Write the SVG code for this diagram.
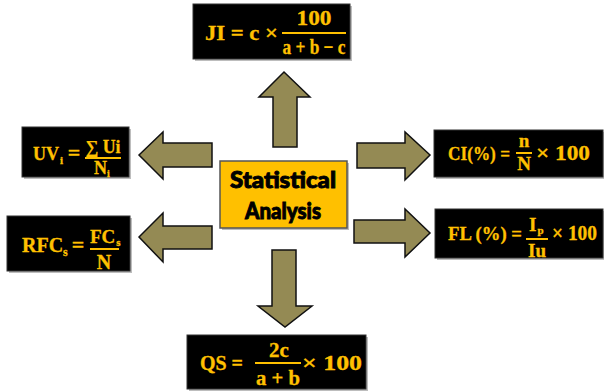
<svg xmlns="http://www.w3.org/2000/svg" width="604" height="391" viewBox="0 0 604 391">
<defs>
<style>
.box{fill:#000;stroke:#333;stroke-width:1}
.shadow{fill:#bdbdbd}
.f{font-family:"Liberation Serif","DejaVu Serif",serif;font-weight:bold;fill:#FFC000;stroke:#FFC000;stroke-width:0.3}
.fl{stroke:#FFC000;stroke-width:2}
.arrow{fill:#948A54;stroke:#111;stroke-width:1.5;stroke-linejoin:miter}
.c{font-family:Lato,"Open Sans",sans-serif;font-weight:900;fill:#000;stroke:#000;stroke-width:0.9;text-anchor:middle}
</style>
</defs>
<rect width="604" height="391" fill="#fff"/>

<g id="connectors">
<polygon class="arrow" points="284,72 310,97 297,97 297,147 273,147 273,97 259,97"/>
<polygon class="arrow" points="272,250 296,250 296,306 312,306 285,327 258,306 272,306"/>
<polygon class="arrow" points="139,155 163,132 163,143 212,143 212,167 163,167 163,179"/>
<polygon class="arrow" points="139,237 163,213 163,226 212,226 212,249 163,249 163,262"/>
<polygon class="arrow" points="357,143 405,143 405,132 430,155 405,180 405,168 357,168"/>
<polygon class="arrow" points="354,220 405,220 405,209 430,233 405,257 405,243 354,243"/>
</g>

<g id="center">
<rect x="222" y="163" width="127" height="67" class="shadow"/>
<rect x="220" y="161" width="127" height="67" fill="#FFC000" stroke="#555" stroke-width="1.5"/>
<text class="c" x="283" y="188" font-size="22" textLength="106" lengthAdjust="spacingAndGlyphs">Statistical</text>
<text class="c" x="283" y="219" font-size="22" textLength="76" lengthAdjust="spacingAndGlyphs">Analysis</text>
</g>

<g id="ji">
<rect x="195" y="6" width="157" height="55" class="shadow"/>
<rect x="193" y="4" width="157" height="55" class="box"/>
<text class="f" x="205" y="40" font-size="21" textLength="73" lengthAdjust="spacingAndGlyphs">JI = c ×</text>
<text class="f" x="314" y="25" font-size="22" text-anchor="middle" textLength="35" lengthAdjust="spacingAndGlyphs">100</text>
<line class="fl" x1="282" y1="33" x2="346" y2="33"/>
<text class="f" x="314" y="54" font-size="21" text-anchor="middle" textLength="63" lengthAdjust="spacingAndGlyphs">a + b − c</text>
</g>

<g id="uv">
<rect x="24" y="129" width="107" height="50" class="shadow"/>
<rect x="22" y="127" width="107" height="50" class="box"/>
<text class="f" x="33" y="160" font-size="18">UV<tspan font-size="11" dx="1" dy="4">i</tspan></text>
<text class="f" x="74" y="160" font-size="22" text-anchor="middle">=</text>
<text class="f" x="103" y="153" font-size="18" text-anchor="middle" textLength="35" lengthAdjust="spacingAndGlyphs">∑ Ui</text>
<line class="fl" x1="85" y1="158" x2="121" y2="158"/>
<text class="f" x="94" y="174" font-size="18">N<tspan font-size="10" dx="0" dy="3">i</tspan></text>
</g>

<g id="rfc">
<rect x="9" y="218" width="123" height="55" class="shadow"/>
<rect x="7" y="216" width="123" height="55" class="box"/>
<text class="f" x="22" y="252" font-size="20">RFC<tspan font-size="12" dy="4">s</tspan></text>
<text class="f" x="78" y="252" font-size="22" text-anchor="middle">=</text>
<text class="f" x="90" y="243" font-size="19">FC<tspan font-size="11" dx="1" dy="3">s</tspan></text>
<line class="fl" x1="90" y1="249" x2="119" y2="249"/>
<text class="f" x="104" y="269" font-size="20" text-anchor="middle">N</text>
</g>

<g id="ci">
<rect x="436" y="132" width="169" height="47" class="shadow"/>
<rect x="434" y="130" width="169" height="47" class="box"/>
<text class="f" x="448" y="160" font-size="19" textLength="62" lengthAdjust="spacingAndGlyphs">CI(%) =</text>
<text class="f" x="524" y="147" font-size="19" text-anchor="middle">n</text>
<line class="fl" x1="516" y1="153" x2="532" y2="153"/>
<text class="f" x="524" y="170" font-size="19" text-anchor="middle">N</text>
<text class="f" x="536" y="160" font-size="20" textLength="54" lengthAdjust="spacingAndGlyphs">× 100</text>
</g>

<g id="fl">
<rect x="437" y="211" width="168" height="49" class="shadow"/>
<rect x="435" y="209" width="168" height="49" class="box"/>
<text class="f" x="448" y="240" font-size="19" textLength="74" lengthAdjust="spacingAndGlyphs">FL (%) =</text>
<text class="f" x="529" y="231" font-size="19">I<tspan font-size="11" dx="1" dy="3">p</tspan></text>
<line class="fl" x1="526" y1="239" x2="548" y2="239"/>
<text class="f" x="537" y="257" font-size="19" text-anchor="middle">Iu</text>
<text class="f" x="552" y="240" font-size="20" textLength="45" lengthAdjust="spacingAndGlyphs">× 100</text>
</g>

<g id="qs">
<rect x="189" y="337" width="179" height="54" class="shadow"/>
<rect x="187" y="335" width="179" height="54" class="box"/>
<text class="f" x="200" y="370" font-size="21" textLength="43" lengthAdjust="spacingAndGlyphs">QS =</text>
<text class="f" x="279" y="357" font-size="21" text-anchor="middle">2c</text>
<line class="fl" x1="255" y1="363" x2="301" y2="363"/>
<text class="f" x="278" y="385" font-size="21" text-anchor="middle" textLength="44" lengthAdjust="spacingAndGlyphs">a + b</text>
<text class="f" x="302" y="370" font-size="21" textLength="60" lengthAdjust="spacingAndGlyphs">× 100</text>
</g>
</svg>
